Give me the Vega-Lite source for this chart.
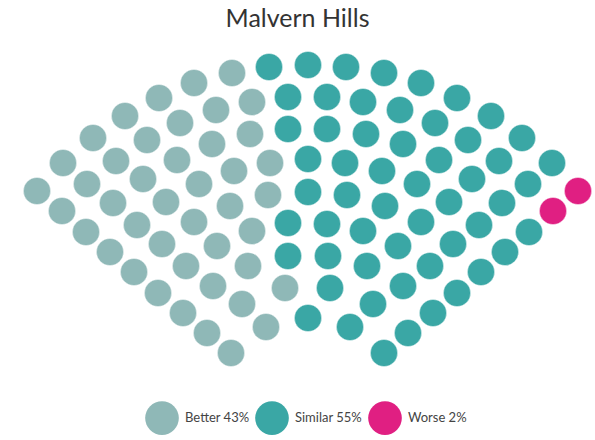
{
  "$schema": "https://vega.github.io/schema/vega-lite/v6.json",
  "width": 595,
  "height": 400,
  "autosize": {"type": "none"},
  "padding": {"left": 0, "top": 40, "right": 0, "bottom": 0},
  "background": "white",
  "title": {"text": "Malvern Hills", "fontSize": 25, "font": "Lato", "fontWeight": "normal", "color": "#333333", "anchor": "middle", "offset": 8},
  "config": {"view": {"stroke": null}},
  "data": {"values": [
    {"x":232,"y":73,"g":"Better 43%"},{"x":194,"y":83,"g":"Better 43%"},{"x":159,"y":98,"g":"Better 43%"},{"x":125,"y":116,"g":"Better 43%"},{"x":93,"y":138,"g":"Better 43%"},{"x":63,"y":163,"g":"Better 43%"},{"x":37,"y":191,"g":"Better 43%"},{"x":62,"y":211,"g":"Better 43%"},{"x":86,"y":232,"g":"Better 43%"},{"x":110,"y":252,"g":"Better 43%"},{"x":134,"y":272,"g":"Better 43%"},{"x":158,"y":293,"g":"Better 43%"},{"x":183,"y":313,"g":"Better 43%"},{"x":207,"y":333,"g":"Better 43%"},{"x":231,"y":353,"g":"Better 43%"},
    {"x":252,"y":102,"g":"Better 43%"},{"x":216,"y":110,"g":"Better 43%"},{"x":180,"y":123,"g":"Better 43%"},{"x":147,"y":140,"g":"Better 43%"},{"x":116,"y":161,"g":"Better 43%"},{"x":87,"y":184,"g":"Better 43%"},{"x":113,"y":203,"g":"Better 43%"},{"x":137,"y":225,"g":"Better 43%"},{"x":162,"y":244,"g":"Better 43%"},{"x":186,"y":266,"g":"Better 43%"},{"x":213,"y":286,"g":"Better 43%"},{"x":242,"y":304,"g":"Better 43%"},{"x":266,"y":327,"g":"Better 43%"},
    {"x":250,"y":134,"g":"Better 43%"},{"x":212,"y":144,"g":"Better 43%"},{"x":177,"y":160,"g":"Better 43%"},{"x":143,"y":179,"g":"Better 43%"},{"x":166,"y":202,"g":"Better 43%"},{"x":194,"y":222,"g":"Better 43%"},{"x":217,"y":246,"g":"Better 43%"},{"x":248,"y":266,"g":"Better 43%"},
    {"x":270,"y":163,"g":"Better 43%"},{"x":234,"y":171,"g":"Better 43%"},{"x":199,"y":184,"g":"Better 43%"},{"x":268,"y":195,"g":"Better 43%"},{"x":230,"y":206,"g":"Better 43%"},{"x":252,"y":231,"g":"Better 43%"},{"x":285,"y":288,"g":"Better 43%"},
    {"x":269,"y":67,"g":"Similar 55%"},{"x":308,"y":65,"g":"Similar 55%"},{"x":346,"y":67,"g":"Similar 55%"},{"x":384,"y":73,"g":"Similar 55%"},{"x":421,"y":83,"g":"Similar 55%"},{"x":457,"y":98,"g":"Similar 55%"},{"x":491,"y":116,"g":"Similar 55%"},{"x":522,"y":138,"g":"Similar 55%"},{"x":552,"y":163,"g":"Similar 55%"},
    {"x":529,"y":232,"g":"Similar 55%"},{"x":505,"y":252,"g":"Similar 55%"},{"x":481,"y":272,"g":"Similar 55%"},{"x":457,"y":293,"g":"Similar 55%"},{"x":433,"y":313,"g":"Similar 55%"},{"x":408,"y":333,"g":"Similar 55%"},{"x":384,"y":353,"g":"Similar 55%"},
    {"x":288,"y":97,"g":"Similar 55%"},{"x":327,"y":97,"g":"Similar 55%"},{"x":363,"y":102,"g":"Similar 55%"},{"x":400,"y":110,"g":"Similar 55%"},{"x":435,"y":123,"g":"Similar 55%"},{"x":468,"y":140,"g":"Similar 55%"},{"x":499,"y":161,"g":"Similar 55%"},{"x":528,"y":184,"g":"Similar 55%"},{"x":502,"y":203,"g":"Similar 55%"},{"x":479,"y":225,"g":"Similar 55%"},{"x":453,"y":244,"g":"Similar 55%"},{"x":430,"y":266,"g":"Similar 55%"},{"x":403,"y":286,"g":"Similar 55%"},{"x":373,"y":304,"g":"Similar 55%"},{"x":350,"y":327,"g":"Similar 55%"},
    {"x":288,"y":129,"g":"Similar 55%"},{"x":327,"y":129,"g":"Similar 55%"},{"x":366,"y":134,"g":"Similar 55%"},{"x":403,"y":144,"g":"Similar 55%"},{"x":439,"y":160,"g":"Similar 55%"},{"x":472,"y":179,"g":"Similar 55%"},
    {"x":308,"y":159,"g":"Similar 55%"},{"x":345,"y":163,"g":"Similar 55%"},{"x":382,"y":171,"g":"Similar 55%"},{"x":417,"y":184,"g":"Similar 55%"},{"x":449,"y":202,"g":"Similar 55%"},
    {"x":308,"y":192,"g":"Similar 55%"},{"x":347,"y":195,"g":"Similar 55%"},{"x":385,"y":206,"g":"Similar 55%"},{"x":421,"y":222,"g":"Similar 55%"},
    {"x":288,"y":223,"g":"Similar 55%"},{"x":327,"y":224,"g":"Similar 55%"},{"x":363,"y":231,"g":"Similar 55%"},{"x":398,"y":246,"g":"Similar 55%"},
    {"x":288,"y":256,"g":"Similar 55%"},{"x":328,"y":256,"g":"Similar 55%"},{"x":367,"y":266,"g":"Similar 55%"},
    {"x":330,"y":288,"g":"Similar 55%"},
    {"x":308,"y":318,"g":"Similar 55%"},
    {"x":578,"y":191,"g":"Worse 2%"},{"x":553,"y":211,"g":"Worse 2%"}
  ]},
  "mark": {"type": "circle", "size": 740, "opacity": 1, "stroke": "white", "strokeWidth": 0.4},
  "encoding": {
    "x": {"field": "x", "type": "quantitative", "scale": {"domain": [0, 595], "nice": false, "zero": false}, "axis": null},
    "y": {"field": "y", "type": "quantitative", "scale": {"domain": [40, 440], "nice": false, "zero": false, "reverse": true}, "axis": null},
    "color": {
      "field": "g", "type": "nominal",
      "scale": {"domain": ["Better 43%", "Similar 55%", "Worse 2%"], "range": ["#8fb8b7", "#3aa7a5", "#e01f82"]},
      "legend": {
        "title": null, "orient": "none", "direction": "horizontal",
        "legendX": 145, "legendY": 361, "padding": 0,
        "symbolType": "circle", "symbolSize": 1134, "symbolStrokeWidth": 0, "symbolOpacity": 1,
        "labelFont": "Lato", "labelFontSize": 13, "labelColor": "#444444", "labelOffset": 6,
        "columnPadding": 5, "labelLimit": 200
      }
    }
  }
}
